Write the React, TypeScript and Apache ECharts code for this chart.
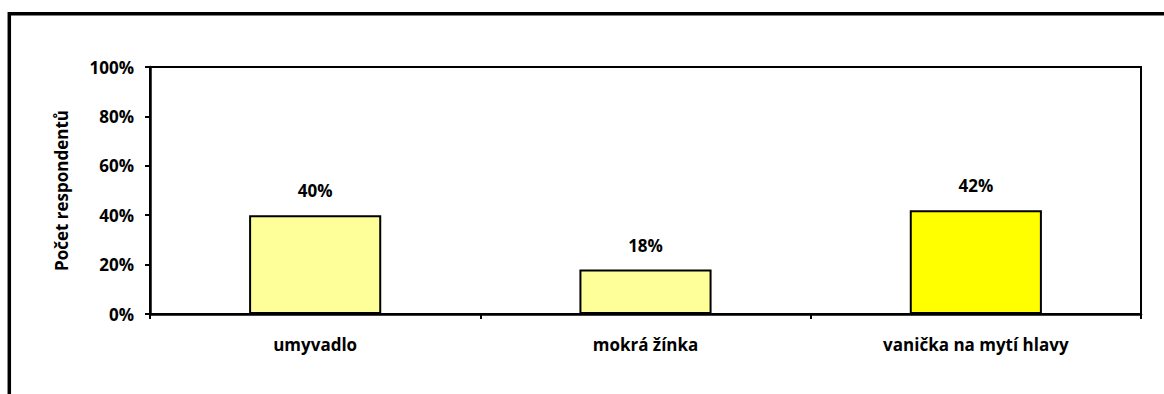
import React, { useEffect, useRef } from "react";
import * as echarts from "echarts";

const categories = ["umyvadlo", "mokrá žínka", "vanička na mytí hlavy"];
const values = [40, 18, 42];
const barColors = ["#FFFF99", "#FFFF99", "#FFFF00"];
const yAxisName = "Počet respondentů";

export default function App() {
  const ref = useRef<HTMLDivElement>(null);
  useEffect(() => {
    document.body.style.margin = "0";
    const chart = echarts.init(ref.current!, null, { renderer: "svg" });
    const font = "'Open Sans', sans-serif";
    chart.setOption({
      animation: false,
      backgroundColor: "#fff",
      textStyle: { fontFamily: font },
      graphic: [
        {
          type: "rect",
          shape: { x: 9.3, y: 13.7, width: 2000, height: 2000 },
          style: { fill: "none", stroke: "#000", lineWidth: 3.5 },
          silent: true,
        },
      ],
      grid: {
        left: 150,
        right: 23,
        top: 67,
        bottom: 80,
        show: true,
        borderColor: "#000",
        borderWidth: 2,
        backgroundColor: "transparent",
      },
      xAxis: {
        type: "category",
        data: categories,
        axisLine: { lineStyle: { color: "#000", width: 2.5 } },
        axisTick: { show: true, interval: 0, length: 5, lineStyle: { color: "#000", width: 2 } },
        axisLabel: {
          interval: 0,
          margin: 22,
          color: "#000",
          fontWeight: "bold",
          fontSize: 17,
          fontFamily: font,
        },
      },
      yAxis: {
        type: "value",
        min: 0,
        max: 100,
        interval: 20,
        name: yAxisName,
        nameLocation: "middle",
        nameGap: 80,
        nameTextStyle: { color: "#000", fontWeight: "bold", fontSize: 17, fontFamily: font },
        axisLine: { show: true, lineStyle: { color: "#000", width: 2.5 } },
        axisTick: { show: true, inside: false, length: 5, lineStyle: { color: "#000", width: 2 } },
        splitLine: { show: false },
        axisLabel: {
          formatter: "{value}%",
          margin: 16,
          color: "#000",
          fontWeight: "bold",
          fontSize: 17,
          fontFamily: font,
        },
      },
      series: [
        {
          type: "bar",
          barWidth: "40%",
          data: values.map((v, i) => ({
            value: v,
            itemStyle: { color: barColors[i], borderColor: "#000", borderWidth: 2 },
          })),
          label: {
            show: true,
            position: "top",
            distance: 16,
            formatter: "{c}%",
            color: "#000",
            fontWeight: "bold",
            fontSize: 17,
            fontFamily: font,
          },
        },
      ],
    });
    return () => chart.dispose();
  }, []);
  return <div ref={ref} style={{ width: 1164, height: 394 }} />;
}
